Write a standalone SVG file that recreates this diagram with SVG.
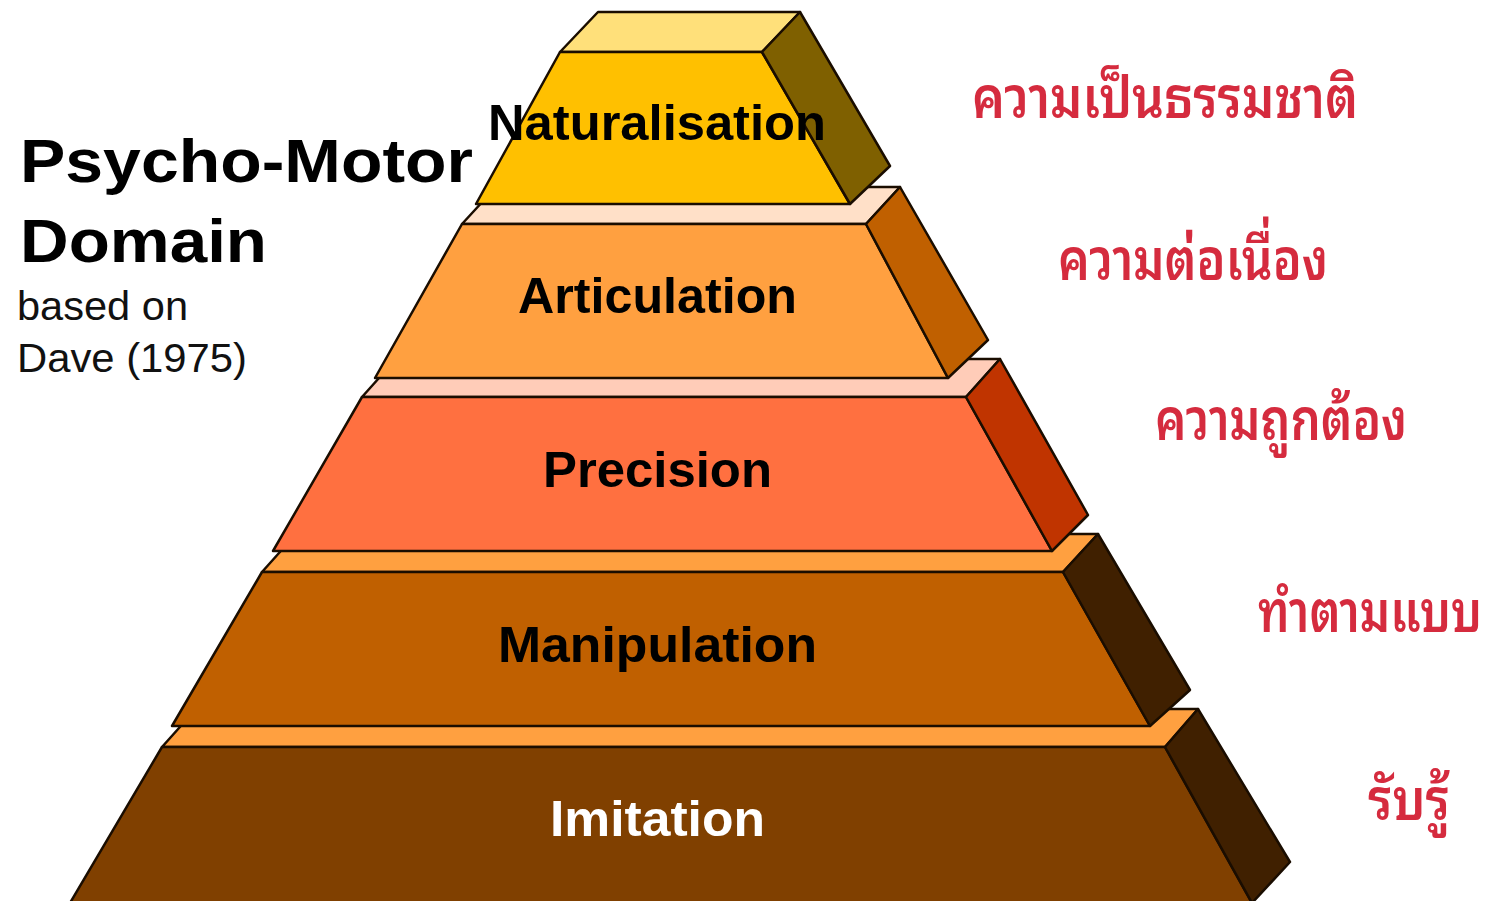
<svg xmlns="http://www.w3.org/2000/svg" width="1496" height="901" viewBox="0 0 1496 901">
<style>
.f{stroke:#1a0d00;stroke-width:2.5;stroke-linejoin:round}
.lbl{font-family:"Liberation Sans",Arial,sans-serif;font-weight:bold;font-size:50px;text-anchor:start}
.th{font-family:"Noto Sans Thai Looped","Noto Serif Thai","Loma","Garuda","Norasi","Kinnari","Noto Sans Thai","DejaVu Sans",sans-serif;font-size:58px;font-weight:600;fill:#D52B3E}
.ttl{font-family:"Liberation Sans",Arial,sans-serif;font-weight:bold;font-size:62px;fill:#000}
.sub{font-family:"Liberation Sans",Arial,sans-serif;font-size:40px;fill:#111}
</style>
<rect width="1496" height="901" fill="#fff"/>
<g id="tier-imitation">
<polygon class="f" fill="#FFA040" points="196,709 1198,709 1165,747 162,747"/>
<polygon class="f" fill="#804000" points="162,747 1165,747 1252,903 70,903"/>
<polygon class="f" fill="#402000" points="1165,747 1198,709 1290,862 1252,903"/>
<text class="lbl" x="550" y="836" fill="#fff" textLength="215" lengthAdjust="spacingAndGlyphs">Imitation</text>
</g>
<g id="tier-manipulation">
<polygon class="f" fill="#FFA040" points="296,534 1098,534 1063,572 262,572"/>
<polygon class="f" fill="#C06000" points="262,572 1063,572 1150,726 172,726"/>
<polygon class="f" fill="#402000" points="1063,572 1098,534 1190,690 1150,726"/>
<text class="lbl" x="498" y="662" fill="#000" textLength="319" lengthAdjust="spacingAndGlyphs">Manipulation</text>
</g>
<g id="tier-precision">
<polygon class="f" fill="#FFCCB8" points="396,359 1000,359 966,397 362,397"/>
<polygon class="f" fill="#FF7040" points="362,397 966,397 1052,551 273,551"/>
<polygon class="f" fill="#C03400" points="966,397 1000,359 1088,515 1052,551"/>
<text class="lbl" x="543" y="487" fill="#000" textLength="229" lengthAdjust="spacingAndGlyphs">Precision</text>
</g>
<g id="tier-articulation">
<polygon class="f" fill="#FFE0C8" points="496,187 900,187 866,224 462,224"/>
<polygon class="f" fill="#FFA040" points="462,224 866,224 948,378 375,378"/>
<polygon class="f" fill="#C06000" points="866,224 900,187 988,340 948,378"/>
<text class="lbl" x="518" y="313" fill="#000" textLength="279" lengthAdjust="spacingAndGlyphs">Articulation</text>
</g>
<g id="tier-naturalisation">
<polygon class="f" fill="#FFE07A" points="598,12 800,12 762,52 560,52"/>
<polygon class="f" fill="#FFC000" points="560,52 762,52 850,204 476,204"/>
<polygon class="f" fill="#7F6000" points="762,52 800,12 890,166 850,204"/>
<text class="lbl" x="488" y="140" fill="#000" textLength="338" lengthAdjust="spacingAndGlyphs">Naturalisation</text>
</g>
<g id="title">
<text class="ttl" x="20" y="182" textLength="453" lengthAdjust="spacingAndGlyphs">Psycho-Motor</text>
<text class="ttl" x="20" y="262" textLength="247" lengthAdjust="spacingAndGlyphs">Domain</text>
<text class="sub" x="17" y="320" textLength="171" lengthAdjust="spacingAndGlyphs">based on</text>
<text class="sub" x="17" y="372" textLength="230" lengthAdjust="spacingAndGlyphs">Dave (1975)</text>
</g>
<g id="thai-labels">
<text class="th" x="972" y="118" textLength="386" lengthAdjust="spacingAndGlyphs">ความเป็นธรรมชาติ</text>
<text class="th" x="1058" y="280" textLength="270" lengthAdjust="spacingAndGlyphs">ความต่อเนื่อง</text>
<text class="th" x="1155" y="440" textLength="252" lengthAdjust="spacingAndGlyphs">ความถูกต้อง</text>
<text class="th" x="1258" y="632" textLength="224" lengthAdjust="spacingAndGlyphs" font-size="53">ทำตามแบบ</text>
<text class="th" x="1368" y="820" textLength="82" lengthAdjust="spacingAndGlyphs">รับรู้</text>
</g>
</svg>
